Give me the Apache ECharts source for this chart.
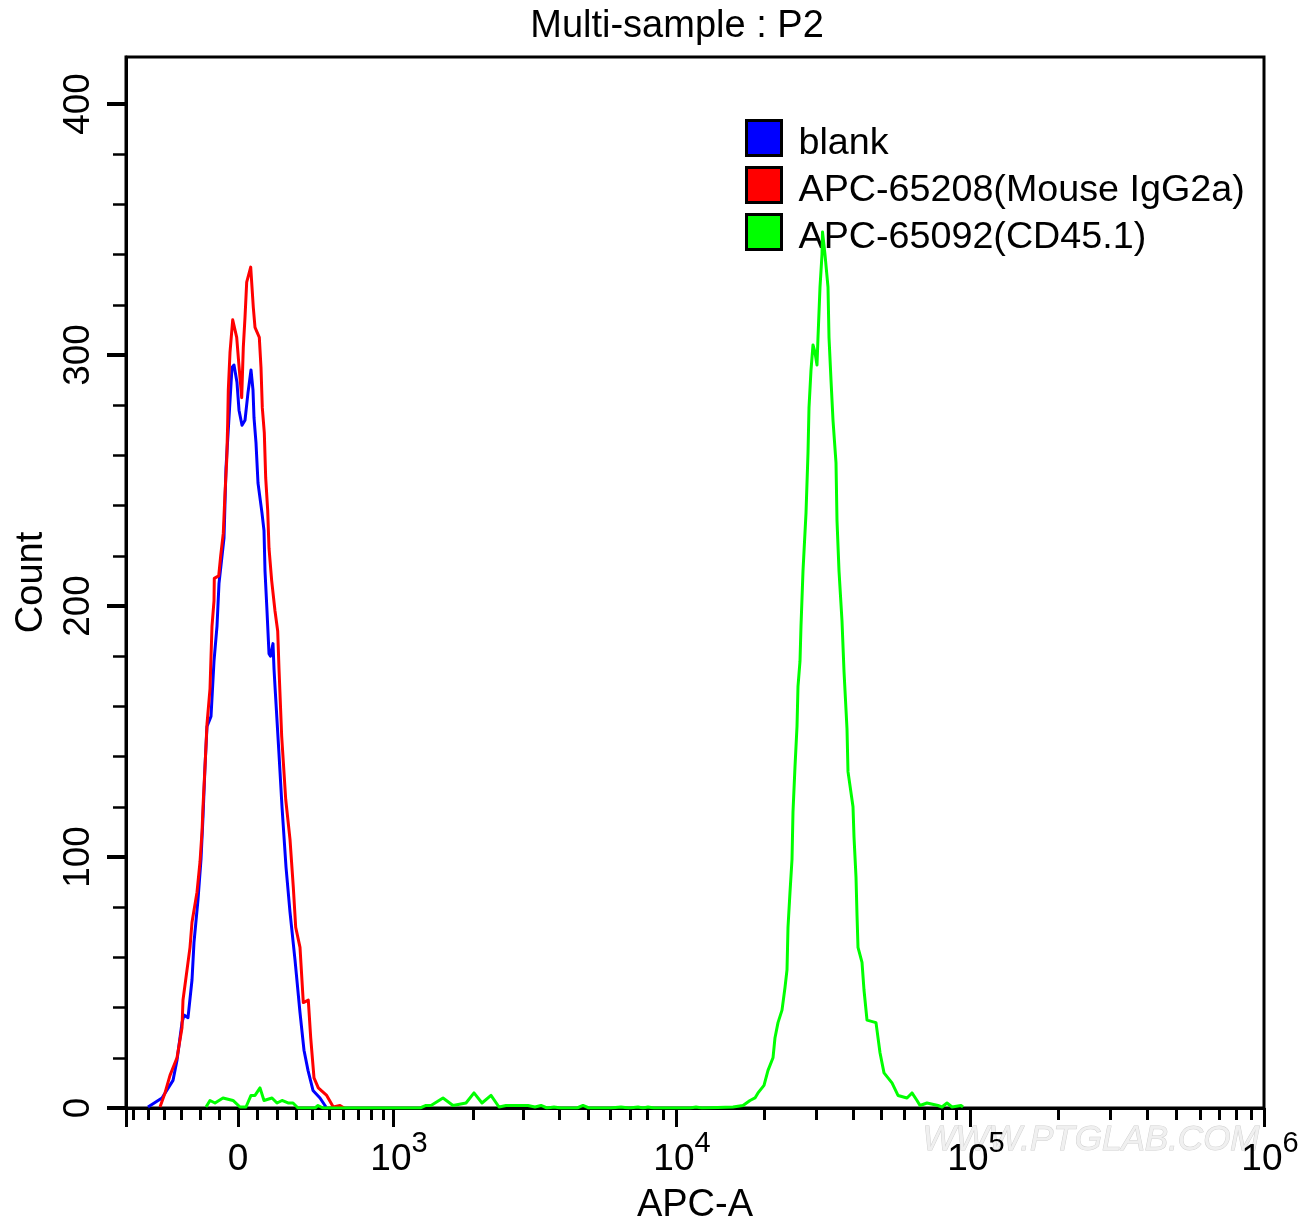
<!DOCTYPE html>
<html>
<head>
<meta charset="utf-8">
<title>Multi-sample : P2</title>
<script src="https://cdn.jsdelivr.net/npm/echarts@6/dist/echarts.min.js"></script>
<style>
  html, body { margin: 0; padding: 0; background: #fff; }
  #main { width: 1312px; height: 1225px; }
</style>
</head>
<body>
<div id="main"></div>
<script>
// x is the biexponential display channel of APC-A (0 = left edge of the plot)
const legendNames = ['blank', 'APC-65208(Mouse IgG2a)', 'APC-65092(CD45.1)'];

const blankX = [22,36,47,51,56,58,62,66,68,72,75,77,79,81,85,88,91,93,98,100,103,106,108,111,113,116,119,122,125,127,128,130,132,136,138,139,141,143,144.5,147,148,149,153,156,160,164,169,174,178,182,187,194,200];
const blankY = [0.4,4,11,19,34,37,36,51,66,83,99,116,136,152,156,178,192,209,227,255,275,295,296,289,278,272,274,285,294,286,275,265,249,237,230,214,198,181,180,185,175,168,141,120,96,78,59,38,23,15,7,4,0.4];

const igX = [34,39,44,51,56,57,61,64,66,71,74,76,77,79,81,84,86,88,88.3,92.7,94.7,97.3,99,100.7,101.7,102.3,104,106.7,110.7,112.7,115.7,117.3,119,120.7,124.7,127.3,129,133.3,135,136.3,138.3,139.7,141.7,143,145.7,149,151.7,153,155.7,159.7,164,167.3,169.7,174,177.3,182.3,184.7,188,192.3,200.7,207.3,214,218];
const igY = [0.4,6,13,20,32,43,55,64,74,86,98,110,120,136,153,167,192,202,211,212,220,229,245,258,273,286,301,314,307,297,283,303,315,329,335,319,311,307,295,279,269,251,238,223,210,198,190,175,148,123,107,88,72,64,42,43,28,12,8,5,0.4,1,0];

const cdX = [80,84,89,97,107,114,120,125,129,134,138,146,151,156,162,167,172,189,192,197,294,300,305,317,327,340,348,356,365,373,380,392,402,409,415,421,428,435,451,457,463,484,495,503,512,517,522,528,564,570,576,607,617,624,629,632,638,642,647,649,652,656,659,661,662,664,666,667,669,671,672,674,675,677,680,682,683,685,687,689,691,692,694,696,696.5,699,702,703,705,707,710,711,713,716,718,721,722,727,728,730,731,732,736,738,741,750,754,758,766,772,781,786,791,794,801,812,816,821,826,835,837];
const cdY = [0.4,3,2,4,3,0.4,0.4,5,5,8,3,4,2,3,2,2,0,0,1,0,0,1,1,4,1,2,6,2,5,0.4,1,1,1,0.4,1,0,0.4,0,0,1,0,0,0.4,0,0.4,0,0.4,0,0,0.4,0,0.4,1,3,4,6,9,15,20,28,34,39,48,55,72,86,99,118,136,152,168,178,192,214,237,261,279,294,304,301,296,307,327,340,349,340,327,307,290,274,257,234,214,194,174,151,134,120,108,92,77,64,58,47,35,34,22,14,10,5,4,6,3,1,2,1,0.4,2,0.4,1,0.4];

// axis ticks, same channel units as the data
const xMin = 0;
const xMax = 1138;
const xMajorTicks = [0, 112.6, 267, 550, 844, 1138];
const xMinorTicks = [7,22,38,55,74,93,131,151,170,186,203,217,232,245,257,347,397,433,462,484,504,521,537,638,690,727,755,778.5,798,816,830,932,984,1021,1050,1074,1093,1110,1125];
const xLabelTicks = [112, 267, 550, 844, 1138];
const xLabelText = ['{zero|0}', '{base|10}{sup|3}', '{base|10}{sup|4}', '{base|10}{sup|5}', '{base|10}{sup|6}'];

const yMin = 0;
const yMax = 418.7;
const yMajorTicks = [0, 100, 200, 300, 400];
const yMinorTicks = [20,40,60,80,120,140,160,180,220,240,260,280,320,340,360,380];

const FONT = 'Liberation Sans';

function pairs(xs, ys) {
  return xs.map((x, i) => [x, ys[i]]);
}

function lineSeries(name, color, xs, ys) {
  return {
    name: name,
    type: 'line',
    xAxisIndex: 0,
    yAxisIndex: 0,
    data: pairs(xs, ys),
    showSymbol: false,
    symbol: 'none',
    smooth: false,
    itemStyle: { color: color },
    lineStyle: { color: color, width: 3, join: 'round' }
  };
}

const chart = echarts.init(document.getElementById('main'));

chart.setOption({
  animation: false,
  backgroundColor: '#fff',
  textStyle: { fontFamily: FONT, color: '#000' },
  title: {
    text: 'Multi-sample : P2',
    left: 677,
    top: 8,
    padding: 0,
    textAlign: 'center',
    textStyle: { fontFamily: FONT, fontSize: 38, fontWeight: 'normal', color: '#000' }
  },
  grid: {
    show: true,
    left: 126,
    right: 48,
    top: 57,
    bottom: 117,
    outerBoundsMode: 'none',
    borderColor: '#000',
    borderWidth: 3,
    backgroundColor: 'transparent'
  },
  legend: {
    orient: 'vertical',
    left: 745,
    top: 118,
    padding: 0,
    z: 1,
    icon: 'rect',
    itemWidth: 35,
    itemHeight: 35,
    itemGap: 2,
    selectedMode: false,
    data: legendNames,
    itemStyle: { borderColor: '#000', borderWidth: 3 },
    lineStyle: { width: 0 },
    formatter: function (name) {
      return '{t|' + name + '}';
    },
    textStyle: {
      rich: {
        t: { fontFamily: FONT, fontSize: 37.7, height: 28, lineHeight: 28, color: '#000', padding: [12, 0, 0, 12] }
      }
    }
  },
  xAxis: [
    {
      type: 'value',
      z: 3,
      min: xMin,
      max: xMax,
      name: 'APC-A',
      nameLocation: 'middle',
      nameGap: 79,
      nameTextStyle: { fontFamily: FONT, fontSize: 38, color: '#000' },
      splitLine: { show: false },
      axisLine: { show: true, onZero: false, lineStyle: { color: '#000', width: 3 } },
      axisTick: { show: true, length: 19, customValues: xMajorTicks, lineStyle: { color: '#000', width: 3 } },
      axisLabel: {
        show: true,
        customValues: xLabelTicks,
        margin: 21,
        hideOverlap: false,
        showMinLabel: true,
        showMaxLabel: true,
        formatter: function (value) {
          return xLabelText[xLabelTicks.indexOf(value)];
        },
        rich: {
          zero: { fontFamily: FONT, fontSize: 37, color: '#000', padding: [12, 0, 0, 0], verticalAlign: 'bottom' },
          base: { fontFamily: FONT, fontSize: 37, color: '#000', padding: [12, 0, 0, 12], verticalAlign: 'bottom' },
          sup: { fontFamily: FONT, fontSize: 29, color: '#000', verticalAlign: 'top' }
        }
      }
    },
    {
      // minor ticks only
      type: 'value',
      min: xMin,
      max: xMax,
      position: 'bottom',
      splitLine: { show: false },
      axisLine: { show: false },
      axisLabel: { show: false },
      axisTick: { show: true, length: 12, customValues: xMinorTicks, lineStyle: { color: '#000', width: 3 } }
    }
  ],
  yAxis: [
    {
      type: 'value',
      min: yMin,
      max: yMax,
      name: 'Count',
      nameLocation: 'middle',
      nameGap: 75,
      nameTextStyle: { fontFamily: FONT, fontSize: 38, color: '#000' },
      splitLine: { show: false },
      axisLine: { show: true, onZero: false, lineStyle: { color: '#000', width: 3 } },
      axisTick: { show: true, length: 19, customValues: yMajorTicks, lineStyle: { color: '#000', width: 4 } },
      axisLabel: {
        show: true,
        customValues: yMajorTicks,
        rotate: 90,
        margin: 29,
        fontFamily: FONT,
        fontSize: 37,
        color: '#000'
      }
    },
    {
      // minor ticks only
      type: 'value',
      min: yMin,
      max: yMax,
      position: 'left',
      splitLine: { show: false },
      axisLine: { show: false },
      axisLabel: { show: false },
      axisTick: { show: true, length: 13, customValues: yMinorTicks, lineStyle: { color: '#000', width: 2.5 } }
    }
  ],
  graphic: [
    {
      // watermark
      type: 'text',
      left: 922,
      top: 1122,
      z: 0,
      silent: true,
      style: {
        text: 'WWW.PTGLAB.COM',
        fontFamily: FONT,
        fontSize: 35,
        fontStyle: 'italic',
        fill: '#f0f0f0',
        stroke: '#d0d0d0',
        lineWidth: 1
      }
    }
  ],
  series: [
    lineSeries(legendNames[0], '#0000ff', blankX, blankY),
    lineSeries(legendNames[1], '#ff0000', igX, igY),
    lineSeries(legendNames[2], '#00ff00', cdX, cdY)
  ]
});
</script>
</body>
</html>
